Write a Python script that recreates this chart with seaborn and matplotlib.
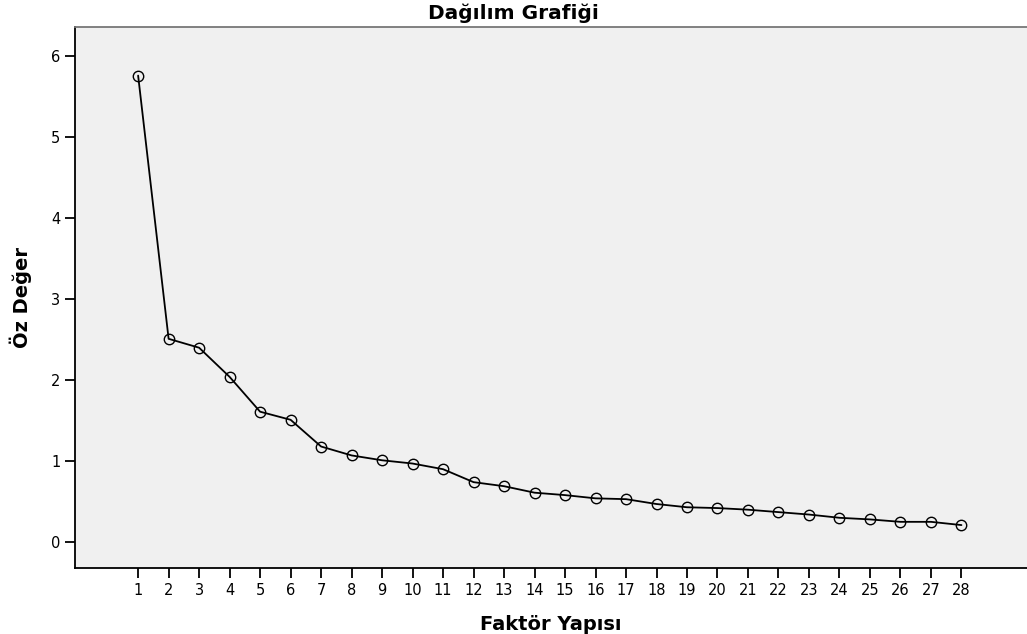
import numpy as np
import pandas as pd
import seaborn as sns
import matplotlib.pyplot as plt

# Faktör numaraları ve öz değerler
faktor = list(range(1, 29))
oz_deger = [5.76, 2.51, 2.40, 2.04, 1.61, 1.51, 1.18, 1.07, 1.01, 0.97,
            0.90, 0.74, 0.69, 0.61, 0.58, 0.54, 0.53, 0.47, 0.43, 0.42,
            0.40, 0.37, 0.34, 0.30, 0.28, 0.25, 0.25, 0.21]
y_ticks = [0, 1, 2, 3, 4, 5, 6]

df = pd.DataFrame({"Faktör": faktor, "Öz Değer": oz_deger})

sns.set_style("white")
plt.rcParams['font.family'] = ['DejaVu Sans']
plt.rcParams['text.color'] = 'black'
plt.rcParams['axes.labelcolor'] = 'black'

fig = plt.figure(figsize=(10.27, 6.34), dpi=100)
ax = fig.add_axes([75 / 1027, 66 / 634, 952 / 1027, 541 / 634])
ax.set_facecolor("#f0f0f0")

sns.lineplot(data=df, x="Faktör", y="Öz Değer", ax=ax, color="black",
             linewidth=1.3, marker="o", markersize=7.5,
             markerfacecolor="none", markeredgecolor="black",
             markeredgewidth=1.0)

ax.set_xlim(-1.07, 30.15)
ax.set_ylim(-0.32, 6.36)
ax.set_xticks(faktor)
ax.set_yticks(y_ticks)
ax.tick_params(axis="both", direction="out", length=7, width=1.3,
               labelsize=10.5, colors="black", bottom=True, left=True)
ax.tick_params(axis="x", pad=4)

ax.spines["left"].set_color("black")
ax.spines["bottom"].set_color("black")
ax.spines["left"].set_linewidth(1.3)
ax.spines["bottom"].set_linewidth(1.3)
ax.spines["top"].set_color("#777777")
ax.spines["top"].set_linewidth(1.3)
ax.spines["right"].set_visible(False)

ax.set_xlabel("Faktör Yapısı", fontsize=14, fontweight="bold", labelpad=12)
ax.set_ylabel("Öz Değer", fontsize=14, fontweight="bold", labelpad=14)
fig.text(513 / 1027, 1 - 13 / 634, "Dağılım Grafiği", ha="center", va="center",
         fontsize=14.5, fontweight="bold", color="black")

fig.savefig("out.png", dpi=100)
